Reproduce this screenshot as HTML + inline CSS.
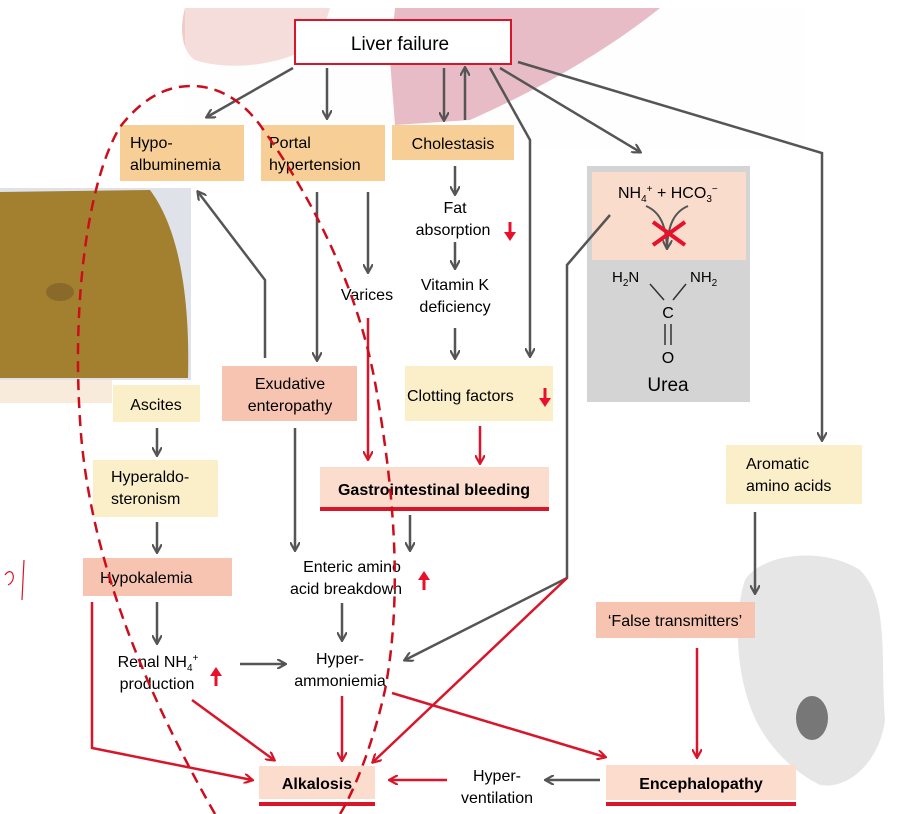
<!DOCTYPE html>
<html><head><meta charset="utf-8"><style>
html,body{margin:0;padding:0;background:#fff;}
svg{display:block;font-family:"Liberation Sans",Arial,sans-serif;}
</style></head><body>
<svg width="901" height="814" viewBox="0 0 901 814" xmlns="http://www.w3.org/2000/svg">
<defs>
<marker id="g" markerWidth="10" markerHeight="10" refX="8" refY="5" orient="auto" markerUnits="userSpaceOnUse"><path d="M0,0 L9,5 L0,10" fill="none" stroke="#555" stroke-width="2.2"/></marker>
<marker id="r" markerWidth="10" markerHeight="10" refX="8" refY="5" orient="auto" markerUnits="userSpaceOnUse"><path d="M0,0 L9,5 L0,10" fill="none" stroke="#d9152a" stroke-width="2.2"/></marker>
</defs>
<path d="M185,8 L330,8 L320,40 C290,65 230,72 195,60 C180,50 180,25 185,8Z" fill="#f0ccc8"/>
<path d="M395,8 L660,8 C620,40 560,80 470,120 L395,125 L390,60Z" fill="#dc9aa9"/>
<rect x="185" y="8" width="620" height="140" fill="#fbfbfd" opacity="0.35"/>
<rect x="0" y="188" width="191" height="192" fill="#dfe2e8"/>
<path d="M0,192 L150,190 C180,230 190,300 188,378 L0,378Z" fill="#a3802f"/>
<ellipse cx="60" cy="292" rx="14" ry="9" fill="#8a6a2a"/>
<rect x="0" y="380" width="112" height="23" fill="#f8ebdc"/>
<path d="M745,580 C760,555 820,545 860,570 C890,600 880,660 885,720 C880,760 850,790 820,785 C790,770 760,740 748,700 C735,660 735,610 745,580Z" fill="#e6e6e6"/>
<ellipse cx="812" cy="718" rx="16" ry="22" fill="#777"/>
<rect x="295" y="20" width="216" height="44" fill="#fff" stroke="#d9152a" stroke-width="2"/>
<text x="400" y="50" font-size="19" text-anchor="middle">Liver failure</text>
<rect x="120" y="125" width="124" height="56" fill="#f7cf96"/>
<text x="130" y="148" font-size="16">Hypo-</text><text x="130" y="170" font-size="16">albuminemia</text>
<rect x="261" y="125" width="124" height="56" fill="#f7cf96"/>
<text x="269" y="148" font-size="16">Portal</text><text x="269" y="170" font-size="16">hypertension</text>
<rect x="392" y="125" width="122" height="35" fill="#f7cf96"/>
<text x="453" y="149" font-size="16" text-anchor="middle">Cholestasis</text>
<rect x="587" y="166" width="163" height="236" fill="#d4d4d4"/>
<rect x="592" y="172" width="154" height="88" fill="#f9dccb"/>
<text x="618" y="198" font-size="16">NH<tspan font-size="10" dy="4">4</tspan><tspan font-size="10" dy="-10">+</tspan><tspan dy="6"> + HCO</tspan><tspan font-size="10" dy="4">3</tspan><tspan font-size="10" dy="-10">−</tspan></text>
<path d="M646,206 C660,212 666,225 667,248 M688,206 C674,212 668,225 667,248" fill="none" stroke="#555" stroke-width="2" marker-end="url(#g)"/>
<path d="M653,222 L685,245 M685,222 L653,245" stroke="#e8102a" stroke-width="4"/>
<text x="612" y="282" font-size="15">H<tspan font-size="10" dy="4">2</tspan><tspan dy="-4">N</tspan></text>
<text x="690" y="282" font-size="15">NH<tspan font-size="10" dy="4">2</tspan></text>
<path d="M650,284 L664,300 M686,284 L673,300" stroke="#333" stroke-width="1.5"/>
<text x="668" y="318" font-size="16" text-anchor="middle">C</text>
<path d="M665,324 L665,345 M671,324 L671,345" stroke="#333" stroke-width="1.5"/>
<text x="668" y="363" font-size="16" text-anchor="middle">O</text>
<text x="668" y="391" font-size="19" text-anchor="middle">Urea</text>
<rect x="726" y="445" width="136" height="59" fill="#fbefc9"/>
<text x="746" y="469" font-size="16">Aromatic</text><text x="746" y="491" font-size="16">amino acids</text>
<rect x="113" y="385" width="87" height="37" fill="#fbefc9"/>
<text x="156" y="410" font-size="16" text-anchor="middle">Ascites</text>
<rect x="222" y="366" width="135" height="55" fill="#f6c4b0"/>
<text x="290" y="389" font-size="16" text-anchor="middle">Exudative</text><text x="290" y="411" font-size="16" text-anchor="middle">enteropathy</text>
<rect x="405" y="366" width="148" height="55" fill="#fbefc9"/>
<text x="407" y="401" font-size="16">Clotting factors</text>
<rect x="93" y="460" width="125" height="57" fill="#fbefc9"/>
<text x="111" y="482" font-size="16">Hyperaldo-</text><text x="111" y="504" font-size="16">steronism</text>
<rect x="320" y="467" width="229" height="41" fill="#fbdccd"/>
<rect x="320" y="507" width="229" height="4" fill="#d9152a"/>
<text x="434" y="495" font-size="16" font-weight="bold" text-anchor="middle">Gastrointestinal bleeding</text>
<rect x="83" y="558" width="149" height="38" fill="#f6c4b0"/>
<text x="100" y="583" font-size="16">Hypokalemia</text>
<rect x="596" y="602" width="159" height="36" fill="#f6c4b0"/>
<text x="675" y="626" font-size="16" text-anchor="middle">‘False transmitters’</text>
<rect x="259" y="766" width="116" height="33" fill="#fbdccd"/>
<rect x="259" y="802" width="116" height="4" fill="#d9152a"/>
<text x="317" y="789" font-size="16" font-weight="bold" text-anchor="middle">Alkalosis</text>
<rect x="606" y="765" width="190" height="35" fill="#fbdccd"/>
<rect x="606" y="802" width="190" height="4" fill="#d9152a"/>
<text x="701" y="789" font-size="16" font-weight="bold" text-anchor="middle">Encephalopathy</text>
<text x="455" y="213" font-size="16" text-anchor="middle">Fat</text>
<text x="453" y="235" font-size="16" text-anchor="middle">absorption</text>
<text x="455" y="290" font-size="16" text-anchor="middle">Vitamin K</text>
<text x="455" y="312" font-size="16" text-anchor="middle">deficiency</text>
<text x="367" y="300" font-size="16" text-anchor="middle">Varices</text>
<text x="352" y="572" font-size="16" text-anchor="middle">Enteric amino</text>
<text x="346" y="594" font-size="16" text-anchor="middle">acid breakdown</text>
<text x="340" y="664" font-size="16" text-anchor="middle">Hyper-</text>
<text x="340" y="686" font-size="16" text-anchor="middle">ammoniemia</text>
<text x="158" y="667" font-size="16" text-anchor="middle">Renal NH<tspan font-size="10" dy="4">4</tspan><tspan font-size="10" dy="-10">+</tspan></text>
<text x="157" y="689" font-size="16" text-anchor="middle">production</text>
<text x="497" y="781" font-size="16" text-anchor="middle">Hyper-</text>
<text x="497" y="803" font-size="16" text-anchor="middle">ventilation</text>
<g stroke="#e8102a" stroke-width="3" fill="#e8102a">
<path d="M510,222 L510,236"/><path d="M504,232 L510,241 L516,232Z" stroke="none"/>
<path d="M545,388 L545,402"/><path d="M539,398 L545,407 L551,398Z" stroke="none"/>
<path d="M424,590 L424,576"/><path d="M418,580 L424,571 L430,580Z" stroke="none"/>
<path d="M216,686 L216,672"/><path d="M210,676 L216,667 L222,676Z" stroke="none"/>
</g>
<g stroke="#555" stroke-width="2.5" fill="none" marker-end="url(#g)">
<path d="M293,68 L207,117"/>
<path d="M327,68 L327,118"/>
<path d="M444,68 L444,120"/>
<path d="M465,120 L465,68"/>
<path d="M490,68 L530,140 L530,356"/>
<path d="M500,68 L640,152"/>
<path d="M518,62 L822,153 L822,440"/>
<path d="M455,166 L455,194"/>
<path d="M455,242 L455,268"/>
<path d="M455,328 L455,358"/>
<path d="M317,192 L317,360"/>
<path d="M368,192 L368,272"/>
<path d="M265,358 L265,280 L198,192"/>
<path d="M157,428 L157,455"/>
<path d="M157,522 L157,552"/>
<path d="M157,602 L157,643"/>
<path d="M295,428 L295,550"/>
<path d="M410,515 L410,550"/>
<path d="M342,603 L342,640"/>
<path d="M240,664 L285,664"/>
<path d="M610,215 L567,265 L567,578 L405,660"/>
<path d="M600,780 L546,780"/>
<path d="M755,512 L755,593"/>
</g>
<g stroke="#d9152a" stroke-width="2.5" fill="none" marker-end="url(#r)">
<path d="M368,318 L368,459"/>
<path d="M480,426 L480,463"/>
<path d="M567,578 L373,762"/>
<path d="M192,700 L274,760"/>
<path d="M92,602 L92,748 L252,780"/>
<path d="M342,696 L342,760"/>
<path d="M392,693 L605,757"/>
<path d="M447,780 L390,780"/>
<path d="M697,648 L697,757"/>
</g>
<path d="M215,814 C150,700 88,560 80,420 C72,300 88,180 120,127 C145,95 170,85 195,86 C225,88 245,105 260,125 C300,180 360,280 378,400 C395,500 402,600 385,690 C374,740 355,790 340,814" fill="none" stroke="#cc0d1c" stroke-width="2.5" stroke-dasharray="11,7"/>
<path d="M5,575 C12,565 18,580 8,585 M24,560 L22,600" fill="none" stroke="#d9152a" stroke-width="1.2"/>
</svg>
</body></html>
